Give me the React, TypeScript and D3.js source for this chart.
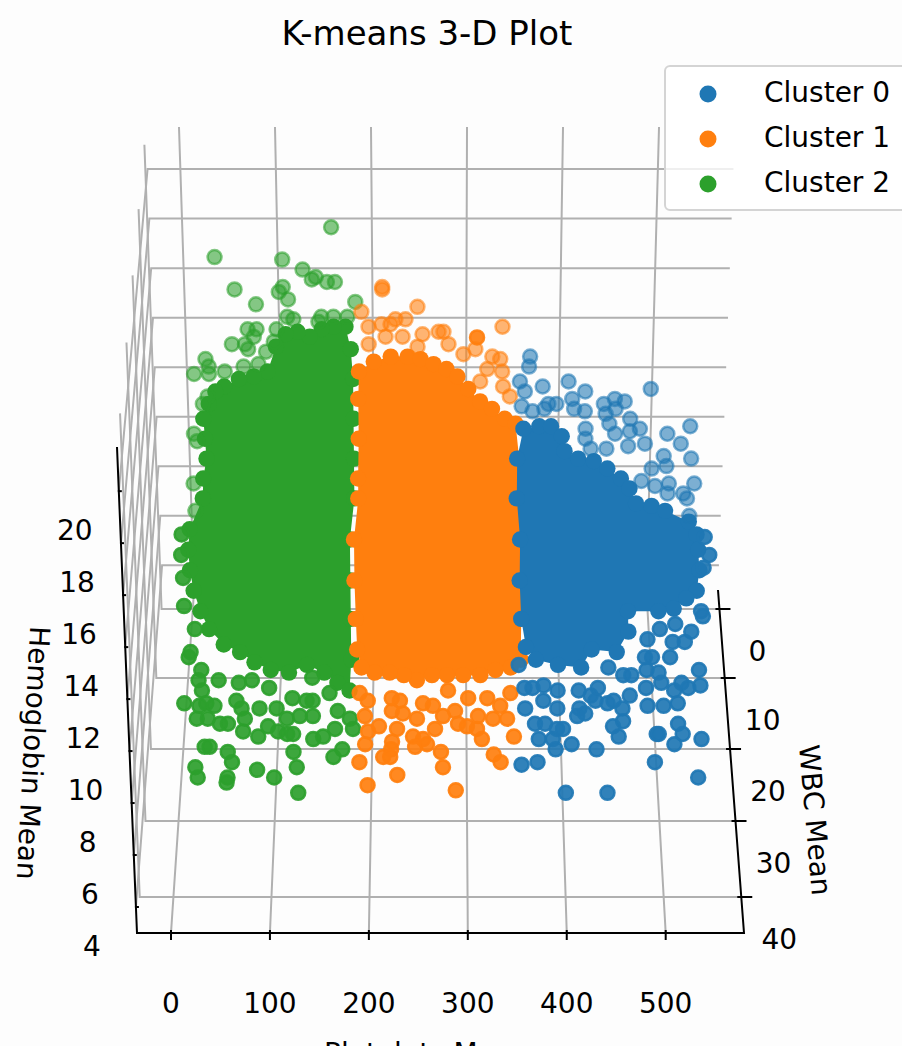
import React from 'react';
import * as d3 from 'd3';

const title = 'K-means 3-D Plot';
const clusterNames = ['Cluster 0', 'Cluster 1', 'Cluster 2'];
const clusterColors = ['#1f77b4', '#ff7f0e', '#2ca02c'];

const plateletTicks = [0, 100, 200, 300, 400, 500];
const wbcTicks = [0, 10, 20, 30, 40];
const hemoglobinTicks = [4, 6, 8, 10, 12, 14, 16, 18, 20];

const wbcBack = 2;
const wbcFront = 30;

// stragglers around each cloud
const greenBack = [[158.5,18.9],[36.3,17.7],[106.9,17.6],[128,17.2],[141.7,16.9],[137.5,16.8],[153.3,16.7],[161.7,16.7],[106.9,16.5],[102.7,16.3],[56.3,16.4],[78.4,15.8],[112.2,16],[182.8,15.9],[111,15.3],[117.4,15.2],[146.9,15.3],[143.8,15.1],[159.6,15.3],[174.3,15.3],[69,14.8],[78.4,14.8],[75.3,14.5],[99.5,14.8],[52,14.2],[65.8,14.2],[69,14],[23.6,13.6],[26.8,13.3],[11,13],[26.8,13],[63.7,13.3],[79.5,13.4],[87.9,13.9],[43.6,13.1],[24.7,12.1],[19.4,11.8],[96.3,14.3],[8.9,10.6],[12,10.3],[6.8,8.6],[7.8,7.5]];
const greenFront = [[13.2,14.2],[12.1,13.4],[13.2,12.5],[13.2,11.4],[23.4,10.5],[10.1,7.6],[16.2,9.4],[18.3,9.6],[28.6,8.9],[25.5,8.5],[28.6,8.1],[25.5,7.5],[32.7,7.6],[40.9,7.5],[22.4,7],[33.7,7],[46,6.8],[54.2,6.8],[69.6,6.5],[71.7,7],[85,6.3],[95.3,6.7],[105.5,6.5],[114.8,6.4],[120.9,6.4],[141.5,6.2],[151.7,6.3],[164,6.6],[182.5,6.6],[171.2,5.8],[162,5.5],[29.6,5.9],[34.7,5.9],[53.2,5.7],[57.3,5.3],[19.3,5.1],[21.4,4.7],[52.2,4.7],[51.1,4.5],[83,5],[100.4,4.7],[120.9,5.7],[124,5.1],[125,4.1],[87,7.4],[68.6,7.4],[79.9,8.5],[46,8.5],[66.5,8.4],[97.3,8.2],[141.5,8.6],[135.3,7.7],[141.5,7.7],[120.9,7.8],[104.5,7.4],[128.1,7.1],[158.9,8],[167.1,7.3],[179.4,7],[114.8,7],[63.5,7.7],[141.5,7.1]];
const orangeBack = [[211.2,16.5],[211.2,16.4],[189.1,15.5],[248.1,15.7],[337.7,14.9],[196.5,14.9],[210.2,15],[224.9,15.2],[235.5,15.2],[219.7,15],[214.4,14.5],[232.3,14.5],[253.4,14.6],[270.3,14.7],[275.5,14.7],[248.1,14.1],[280.8,14.2],[196.5,14.2],[296.6,13.8],[309.2,14],[327.2,13.7],[335.6,13.6],[321.9,13.2],[337.7,13.1],[314.5,12.7],[338.8,12.5],[346.1,12.1]];
const orangeFront = [[307.7,21.9],[194.8,7.1],[209.2,6.7],[197.9,6.5],[194.8,6],[222.5,7.3],[233.8,7.2],[248.2,7],[227.7,6.6],[266.7,6.6],[274.9,7.1],[290.3,6.8],[299.5,6.7],[287.2,7.3],[310.8,7.1],[326.2,7],[340.6,7],[333.4,7.5],[309.8,6.6],[314.9,6.2],[347.8,6.3],[244.1,6.3],[254.4,6.2],[222.5,6.1],[221.5,5.8],[246.2,5.9],[258.5,6],[272.8,5.7],[213.3,5.5],[220.5,5.5],[188.7,5.3],[327.2,5.6],[334.4,5.3],[274.9,5.1],[227.7,4.8],[196.9,4.4],[288.2,4.2],[189.7,8],[197.9,7.7],[300.6,7.8],[280,8.1],[254.4,7.6],[222.5,7.8],[264.6,7.5],[343.7,8],[320.1,7.8],[230.8,7.7]];
const blueBack = [[367.2,13.7],[366.2,13.3],[356.7,12.7],[362,12.3],[380.9,12.5],[408.3,12.7],[426.2,12.3],[495.8,12.4],[358.8,11.7],[370.4,11.5],[387.2,11.8],[395.7,11.8],[383,11.6],[412.5,12],[414.7,11.6],[426.2,11.5],[446.3,11.8],[457.9,12],[468.4,11.9],[448.4,11.4],[458.9,11.6],[452.6,11],[474.7,11.2],[485.3,10.8],[474.7,10.7],[427.3,10.8],[427.3,10.4],[458.9,10.6],[514.8,10.6],[539,10.9],[529.5,10.2],[541.1,9.6],[491.1,10.2],[473.2,10.1],[433.1,10],[450,10],[511.6,9.7],[514.8,9.3],[499,9.2],[488.4,8.7],[503.2,8.5],[518,8.6],[545.3,8.6],[533.8,8.2],[538,8],[516.9,8.2],[541.1,7.3]];
const blueFront = [[536.6,14.1],[541.8,13.4],[536.6,12.9],[537.6,11],[535.6,11.2],[494.5,10.5],[509.9,10.7],[526.4,10.4],[507.9,10],[520.2,10],[505.8,9.4],[482.2,10.1],[487.4,9.4],[480.2,9.4],[535.6,8.9],[482.2,8.9],[494.5,8.8],[443.2,9],[458.6,8.7],[466.8,8.7],[537.6,8.3],[518.2,8.4],[497.6,8.4],[525.3,8.2],[511,8.1],[482.2,8.2],[465.8,7.9],[433,8.2],[413.5,8.1],[391.9,8.1],[377.5,8.3],[366.2,8.2],[358,8.2],[425.8,7.9],[430.9,7.7],[414.5,7.4],[443.2,7.6],[449.4,7.7],[458.6,7.4],[484.3,7.5],[500.7,7.5],[515.1,7.6],[359,7.4],[377.5,7.7],[391.9,7.4],[412.4,7.1],[420.6,7.2],[369.3,6.8],[379.6,6.8],[459.6,6.9],[449.4,6.7],[455.5,6.3],[373.4,6.2],[387.8,6.2],[398.1,6.6],[391.9,6.6],[407.3,6],[390.9,5.8],[433,5.8],[494.5,6.4],[496.6,6.4],[516.1,6.8],[521.2,6.4],[513,6],[540.7,6.2],[372.4,5.3],[356,5.2],[493.5,5.3],[538.7,4.7],[402.2,4.1],[445.3,4.1],[351.9,9.1]];

// rim of the solid part of each cloud, as [platelets, wbc, hemoglobin]
const greenCore = [[172.2,2,14.9],[159.6,2,14.9],[147,2,14.8],[134.3,2,14.5],[121.6,2,14.7],[109,2,14.6],[98.5,2,14.1],[89,2,13.1],[74.2,2,12.9],[58.4,2,12.8],[42.6,2,12.5],[33.1,2,12.3],[25.7,2,11.8],[19.4,2,11.2],[20.5,2,10.4],[21.5,2,9.6],[17.3,2,8.8],[16.2,2,8],[21.4,30,14.4],[19.3,30,13.6],[20.3,30,12.8],[23.4,30,12],[29.6,30,11.2],[37.8,30,10.5],[52.2,30,9.9],[68.6,30,9.6],[83,30,9.2],[99.4,30,8.9],[117.9,30,8.8],[136.3,30,9.1],[153.8,30,8.8],[167.1,30,8.4],[179.4,30,8.1],[181.5,30,9.3],[181.5,30,10.9],[181.5,30,12.4],[181.5,30,14],[179.6,2,8],[179.6,2,9.6],[179.6,2,11.2],[179.6,2,12.8],[177.5,2,14]];
const orangeCore = [[185.9,2,13.1],[201.7,2,13.5],[219.7,2,13.7],[237.6,2,13.7],[251.3,2,13.6],[265,2,13.4],[278.7,2,13.2],[290.3,2,12.9],[301.9,2,12.4],[314.5,2,11.9],[327.2,2,11.6],[340.9,2,11.2],[352.5,2,11],[356.7,2,9.6],[356.7,2,8],[353.9,30,14],[353.9,30,12.4],[353.9,30,10.9],[353.9,30,9.3],[343.7,30,9],[328.3,30,8.9],[312.9,30,8.7],[295.4,30,8.7],[279,30,8.7],[263.6,30,8.7],[248.2,30,8.5],[234.9,30,8.7],[220.5,30,8.8],[205.1,30,8.8],[191.8,30,9],[187.6,30,9.7],[186.6,30,10.9],[185.6,30,12.4],[185.6,30,14],[183.8,2,8],[183.8,2,8.8],[184.9,2,10.4],[184.9,2,12]];
const blueCore = [[360.9,2,10.8],[377.8,2,10.9],[390.4,2,10.9],[402,2,10.5],[405.2,2,9.9],[420,2,9.6],[436.8,2,9.5],[451.5,2,9.2],[466.3,2,8.8],[475.8,2,8.4],[483.2,2,7.8],[500,2,7.7],[514.8,2,7.5],[520.2,30,14.7],[528.4,30,14.2],[530.5,30,13.6],[532.5,30,12.8],[530.5,30,12],[520.2,30,11.7],[507.9,30,11.3],[492.5,30,11.2],[461.7,30,11.2],[462.7,30,10.4],[451.4,30,9.6],[425.8,30,9.7],[415.5,30,9],[391.9,30,9.1],[369.3,30,9.3],[359,30,9.8],[353.9,30,10.9],[351.9,30,12.4],[351.9,30,14],[354.6,2,8],[354.6,2,9.6]];

const width = 902;
const height = 1046;
const lineGrey = '#b0b0b0';
const fontFamily = '"DejaVu Sans", sans-serif';

// the box of the 3-D axes as the picture shows it
const frac = d3.scaleLinear().domain([0, 500]).range([0.056, 0.871]);
const floorY = d3.scaleLinear().domain([-2.8, 0, 10, 20, 30, 40, 44.7]).range([590, 609, 678, 749, 821, 897, 933]);
const depth = d3.scaleLinear().domain([590, 933]).range([0, 1]);
const rise = d3.scaleLinear().domain([3, 21.7]).range([0, 1]);
const floorLeft = d3.scaleLinear().domain([0, 1]).range([163, 137]);
const floorRight = d3.scaleLinear().domain([0, 1]).range([718, 744]);
const topLeft = d3.scaleLinear().domain([0, 1]).range([146, 117]);
const topRight = d3.scaleLinear().domain([0, 1]).range([735, 765]);
const boxHeight = d3.scaleLinear().domain([0, 1]).range([463, 486]);
const shade = d3.scaleLinear().domain([wbcBack, wbcFront]).range([0.58, 0.92]);

// f across, w = wbc, t = 0 on the floor and 1 at the top of the box
const corner = (f: number, w: number, t: number): [number, number] => {
  const d = depth(floorY(w));
  const left = floorLeft(d) + (topLeft(d) - floorLeft(d)) * t;
  const right = floorRight(d) + (topRight(d) - floorRight(d)) * t;
  return [left + (right - left) * f, floorY(w) - boxHeight(d) * t];
};
const project = (p: number, w: number, z: number) => corner(frac(p), w, rise(z));

const wbcMin = -2.8;
const wbcMax = 44.7;
const line = d3.line();

function Dots({ points, wbc, color }: { points: number[][]; wbc: number; color: string }) {
  return (
    <g>
      {points.map(([p, z], i) => {
        const [cx, cy] = project(p, wbc, z);
        return (
          <circle key={i} cx={cx} cy={cy} r={7} fill={color} stroke={color} strokeWidth={2.5}
            fillOpacity={shade(wbc)} strokeOpacity={shade(wbc)} />
        );
      })}
    </g>
  );
}

function Core({ rim, color }: { rim: number[][]; color: string }) {
  const pts = rim.map(([p, w, z]) => project(p, w, z));
  return (
    <g>
      <path d={line(pts) + 'Z'} fill={color} />
      {pts.map(([cx, cy], i) => <circle key={i} cx={cx} cy={cy} r={8.2} fill={color} />)}
    </g>
  );
}

export default function App() {
  return (
    <svg width={width} height={height} style={{ position: 'absolute', left: 0, top: 0, background: '#fdfdfd' }}
      fontFamily={fontFamily} fill="#000">
      <text x={427} y={33} fontSize={34} textAnchor="middle" dominantBaseline="central">{title}</text>

      <g fill="none" stroke={lineGrey} strokeWidth={2}>
        {plateletTicks.map(p => (
          <path key={p} d={line([corner(frac(p), wbcMin, 1), corner(frac(p), wbcMin, 0), corner(frac(p), wbcMax, 0)])!} />
        ))}
        {wbcTicks.map(w => (
          <path key={w} d={line([corner(1, w, 0), corner(0, w, 0), corner(0, w, 1)])!} />
        ))}
        {hemoglobinTicks.map(z => (
          <path key={z} d={line([corner(1, wbcMin, rise(z)), corner(0, wbcMin, rise(z)), corner(0, wbcMax, rise(z))])!} />
        ))}
      </g>

      <g fill="none" stroke="#000" strokeWidth={2}>
        <path d={line([corner(0, wbcMax, 1), corner(0, wbcMax, 0), corner(1, wbcMax, 0), corner(1, wbcMin, 0)])!} />
        {plateletTicks.map(p => {
          const [x, y] = corner(frac(p), wbcMax, 0);
          return <path key={p} d={line([[x, y - 3], [x, y + 7]])!} />;
        })}
        {wbcTicks.map(w => {
          const [x, y] = corner(1, w, 0);
          return <path key={w} d={line([[x - 4, y], [x + 11, y]])!} />;
        })}
        {hemoglobinTicks.map(z => {
          const [x, y] = corner(0, wbcMax, rise(z));
          return <path key={z} d={line([[x - 1, y], [x + 3, y]])!} />;
        })}
      </g>

      <Core rim={greenCore} color={clusterColors[2]} />
      <Dots points={greenBack} wbc={wbcBack} color={clusterColors[2]} />
      <Dots points={greenFront} wbc={wbcFront} color={clusterColors[2]} />
      <Core rim={orangeCore} color={clusterColors[1]} />
      <Dots points={orangeBack} wbc={wbcBack} color={clusterColors[1]} />
      <Dots points={orangeFront} wbc={wbcFront} color={clusterColors[1]} />
      <Core rim={blueCore} color={clusterColors[0]} />
      <Dots points={blueBack} wbc={wbcBack} color={clusterColors[0]} />
      <Dots points={blueFront} wbc={wbcFront} color={clusterColors[0]} />

      <g fontSize={28} textAnchor="middle" dominantBaseline="central">
        {plateletTicks.map(p => (
          <text key={p} x={corner(frac(p), wbcMax, 0)[0]} y={1003}>{p}</text>
        ))}
        {wbcTicks.map(w => {
          const [x, y] = corner(1, w, 0);
          return <text key={w} x={x + 38} y={y + 42}>{w}</text>;
        })}
        {hemoglobinTicks.map(z => {
          const [x, y] = corner(0, wbcMax, rise(z));
          return <text key={z} x={x - 44} y={y + 39}>{z}</text>;
        })}
      </g>

      <text x={427} y={1053} fontSize={28} textAnchor="middle" dominantBaseline="central">Platelets Mean</text>
      <text transform="translate(33,753) rotate(93)" fontSize={28} textAnchor="middle" dominantBaseline="central">Hemoglobin Mean</text>
      <text transform="translate(815,820) rotate(85)" fontSize={28} textAnchor="middle" dominantBaseline="central">WBC Mean</text>

      <rect x={665} y={66} width={260} height={144} rx={5} fill="#fff" fillOpacity={0.8} stroke="#d4d4d4" strokeWidth={2} />
      {clusterNames.map((name, i) => (
        <g key={name}>
          <circle cx={708} cy={94 + i * 45} r={8.5} fill={clusterColors[i]} />
          <text x={764} y={92 + i * 45} fontSize={28} dominantBaseline="central">{name}</text>
        </g>
      ))}
    </svg>
  );
}
